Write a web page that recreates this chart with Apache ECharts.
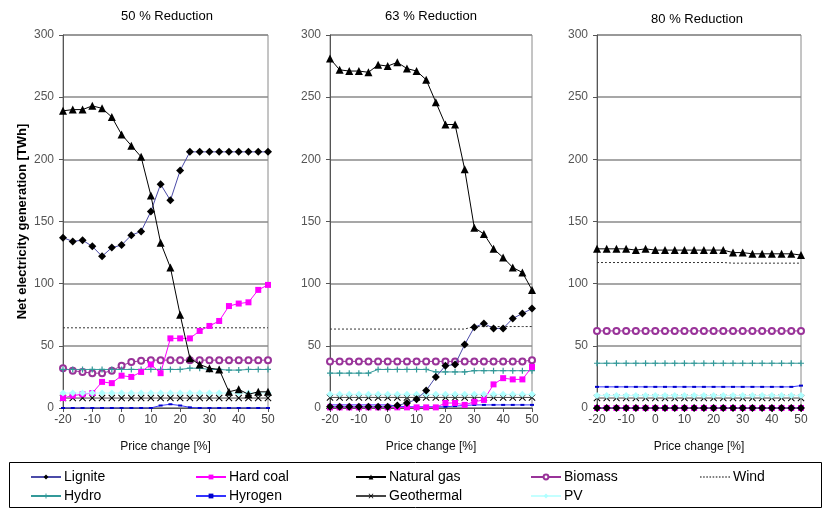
<!DOCTYPE html>
<html>
<head>
<meta charset="utf-8">
<script src="https://cdn.jsdelivr.net/npm/echarts@6/dist/echarts.min.js"></script>
<style>
  html, body { margin: 0; padding: 0; background: #fff; }
  #chart { width: 830px; height: 510px; }
</style>
</head>
<body>
<div id="chart"></div>
<script>
// Price change steps (%) shared by all three scenarios
const priceChange = [-20, -16.67, -13.33, -10, -6.67, -3.33, 0, 3.33, 6.67, 10, 13.33, 16.67,
  20, 23.33, 26.67, 30, 33.33, 36.67, 40, 43.33, 46.67, 50];
const xTicks = [-20, -10, 0, 10, 20, 30, 40, 50];
const yTicks = [0, 50, 100, 150, 200, 250, 300];

const fuels = ['Lignite', 'Hard coal', 'Natural gas', 'Biomass', 'Wind', 'Hydro', 'Hyrogen', 'Geothermal', 'PV'];
const panelTitles = ['50 % Reduction', '63 % Reduction', '80 % Reduction'];

// 50 % reduction scenario (TWh)
const r50Lignite = [137, 134, 135, 130, 122, 129, 131, 139, 142, 158, 180, 167, 191, 206, 206, 206, 206, 206, 206, 206, 206, 206];
const r50HardCoal = [8, 10, 11, 12, 21, 20, 26, 25, 29, 35, 28, 56, 56, 56, 62, 66, 70, 82, 84, 85, 95, 99];
const r50Gas = [239, 240, 240, 243, 241, 234, 220, 211, 202, 171, 133, 113, 75, 40, 35, 32, 31, 13, 15, 11, 13, 13];
const r50Biomass = [32, 30, 29, 28, 28, 30, 34, 37, 38, 38.5, 38.5, 38.5, 38.5, 38.5, 38.5, 38.5, 38.5, 38.5, 38.5, 38.5, 38.5, 38.5];
const r50Wind = [64.5, 64.5, 64.5, 64.5, 64.5, 64.5, 64.5, 64.5, 64.5, 64.5, 64.5, 64.5, 64.5, 64.5, 64.5, 64.5, 64.5, 64.5, 64.5, 64.5, 64.5, 64.5];
const r50Hydro = [31, 31, 31, 31, 31, 31, 31, 31, 31, 31, 31, 31, 31, 32, 32, 31, 31, 30.5, 30.5, 31, 31, 31];
const r50Hydrogen = [0, 0, 0, 0, 0, 0, 0, 0, 0, 0, 2, 3, 2, 0.5, 0, 0, 0, 0, 0, 0, 0, 0];
const r50Geothermal = [8, 8, 8, 8, 8, 8, 8, 8, 8, 8, 8, 8, 8, 8, 8, 8, 8, 8, 8, 8, 8, 8];
const r50PV = [12, 12, 12, 12, 12, 12, 12, 12, 12, 12, 12, 12, 12, 12, 12, 12, 12, 12, 12, 12, 12, 12];

// 63 % reduction scenario (TWh)
const r63Lignite = [1, 1, 1, 1, 1, 1, 1, 2, 4, 7, 14, 25, 34, 35, 51, 65, 68, 64, 64, 72, 76, 80];
const r63HardCoal = [0.5, 0.5, 0.5, 0.5, 0.5, 0.5, 0.5, 0.5, 0.5, 0.5, 0.5, 0.5, 4, 4, 2.5, 5, 6.5, 19, 24, 23, 23, 33];
const r63Gas = [281, 272, 271, 271, 270, 276, 275, 278, 273, 271, 264, 246, 228, 228, 192, 145, 140, 128, 121, 113, 109, 95];
const r63Biomass = [37.5, 37.5, 37.5, 37.5, 37.5, 37.5, 37.5, 37.5, 37.5, 37.5, 37.5, 37.5, 37.5, 37.5, 37.5, 37.5, 37.5, 37.5, 37.5, 37.5, 37.5, 38.5];
const r63Wind = [63.5, 63.5, 63.5, 63.5, 63.5, 63.5, 63.5, 63.5, 63.5, 63.5, 63.5, 63.5, 63.5, 63.5, 63.5, 65.5, 65.5, 65.5, 65.5, 65.5, 65.5, 65.5];
const r63Hydro = [28, 28, 28, 28, 28, 31, 31, 31, 31, 31, 31, 29, 29, 29, 29, 30, 30, 30, 30, 30, 30, 30];
const r63Hydrogen = [2.5, 2.5, 2.5, 2.5, 2.5, 2.5, 2.5, 1.5, 1, 1, 1, 1, 1, 1.5, 2, 2.5, 2.5, 2.5, 2.5, 2.5, 2.5, 2.5];
const r63Geothermal = [8.5, 8.5, 8.5, 8.5, 8.5, 8.5, 8.5, 8.5, 8.5, 8.5, 8.5, 8.5, 8.5, 8.5, 8.5, 8.5, 8.5, 8.5, 8.5, 8.5, 8.5, 8.5];
const r63PV = [11, 11, 11, 11, 11, 11, 11, 11, 11, 11, 11, 11, 11, 11, 11, 11, 11, 11, 11, 11, 11, 11];

// 80 % reduction scenario (TWh)
const r80Lignite = [0, 0, 0, 0, 0, 0, 0, 0, 0, 0, 0, 0, 0, 0, 0, 0, 0, 0, 0, 0, 0, 0];
const r80HardCoal = [0, 0, 0, 0, 0, 0, 0, 0, 0, 0, 0, 0, 0, 0, 0, 0, 0, 0, 0, 0, 0, 0];
const r80Gas = [128, 128, 128, 128, 127, 128, 127, 127, 127, 127, 127, 127, 127, 127, 125, 125, 124, 124, 124, 124, 124, 123];
const r80Biomass = [62, 62, 62, 62, 62, 62, 62, 62, 62, 62, 62, 62, 62, 62, 62, 62, 62, 62, 62, 62, 62, 62];
const r80Wind = [117, 117, 117, 117, 117, 117, 117, 117, 117, 117, 117, 117, 117, 117, 116.5, 116.5, 116.5, 116.5, 116.5, 116.5, 116.5, 116.5];
const r80Hydro = [36, 36, 36, 36, 36, 36, 36, 36, 36, 36, 36, 36, 36, 36, 36, 36, 36, 36, 36, 36, 36, 36];
const r80Hydrogen = [17, 17, 17, 17, 17, 17, 17, 17, 17, 17, 17, 17, 17, 17, 17, 17, 17, 17, 17, 17, 17, 18];
const r80Geothermal = [8, 8, 8, 8, 8, 8, 8, 8, 8, 8, 8, 8, 8, 8, 8, 8, 8, 8, 8, 8, 8, 8];
const r80PV = [10, 10, 10, 10, 10, 10, 10, 10, 10, 10, 10, 10, 10, 10, 10, 10, 10, 10, 10, 10, 10, 10];

const panelData = [
  [r50Lignite, r50HardCoal, r50Gas, r50Biomass, r50Wind, r50Hydro, r50Hydrogen, r50Geothermal, r50PV],
  [r63Lignite, r63HardCoal, r63Gas, r63Biomass, r63Wind, r63Hydro, r63Hydrogen, r63Geothermal, r63PV],
  [r80Lignite, r80HardCoal, r80Gas, r80Biomass, r80Wind, r80Hydro, r80Hydrogen, r80Geothermal, r80PV]
];

const FONT = '"Liberation Sans", Arial, sans-serif';
const PLUS = 'path://M4,0H6V4H10V6H6V10H4V6H0V4H4Z';
const CROSS = 'path://M0,1L1,0L5,4L9,0L10,1L6,5L10,9L9,10L5,6L1,10L0,9L4,5Z';

// Dotted stroke used as the Wind legend key
let dots = '';
for (let x = 0; x < 30; x += 3) dots += 'M' + x + ',0h1.5v1h-1.5z';
const DOTTED_KEY = 'path://' + dots;

// Line and marker look for each source
const looks = {
  'Lignite':     { line: '#4b4ba8', mark: '#000', symbol: 'diamond', size: 8, z: 6 },
  'Hard coal':   { line: '#ff00ff', mark: '#ff00ff', symbol: 'rect', size: 6, z: 5 },
  'Natural gas': { line: '#000', mark: '#000', symbol: 'triangle', size: 8, z: 7 },
  'Biomass':     { line: '#993399', mark: '#993399', symbol: 'emptyCircle', size: 6, z: 4 },
  'Wind':        { line: '#333', mark: '#333', symbol: 'none', size: 0, z: 3, dotted: true },
  'Hydro':       { line: '#339999', mark: '#339999', symbol: PLUS, size: 6, z: 4 },
  'Hyrogen':     { line: '#3333ff', mark: '#0000cc', symbol: 'rect', size: [4, 2], z: 4 },
  'Geothermal':  { line: '#444', mark: '#000', symbol: CROSS, size: 7, z: 4 },
  'PV':          { line: '#c4ffff', mark: '#b0ffff', symbol: 'diamond', size: 7, z: 5 }
};

const gridLefts = [63, 330, 597];
const gridWidths = [205, 202, 204];
const grids = gridLefts.map((l, k) => ({
  left: l, width: gridWidths[k], top: 35, height: 373,
  show: true, borderColor: '#8a8a8a', borderWidth: 1, backgroundColor: '#fff'
}));

const xAxes = gridLefts.map((l, k) => ({
  type: 'value', gridIndex: k, min: xTicks[0], max: xTicks[xTicks.length - 1], interval: 10,
  axisLine: { show: true, onZero: false, lineStyle: { color: '#555', width: 1 } },
  axisTick: { show: true, length: 4, lineStyle: { color: '#555' } },
  splitLine: { show: false },
  axisLabel: { color: '#444', fontSize: 12, fontFamily: FONT, margin: 6 },
  name: 'Price change [%]', nameLocation: 'middle', nameGap: 33,
  nameTextStyle: { color: '#111', fontSize: 12, fontFamily: FONT }
}));

const yAxes = gridLefts.map((l, k) => ({
  type: 'value', gridIndex: k, min: yTicks[0], max: yTicks[yTicks.length - 1], interval: 50,
  axisLine: { show: true, onZero: false, lineStyle: { color: '#555', width: 1 } },
  axisTick: { show: true, length: 4, lineStyle: { color: '#555' } },
  splitLine: { show: true, lineStyle: { color: '#8a8a8a', width: 1.5 } },
  axisLabel: { color: '#555', fontSize: 12, fontFamily: FONT, margin: 9 },
  name: k === 0 ? 'Net electricity generation [TWh]' : '',
  nameLocation: 'middle', nameGap: 34,
  nameTextStyle: { color: '#000', fontSize: 13, fontWeight: 'bold', fontFamily: FONT }
}));

const series = [];
panelData.forEach((rows, k) => {
  fuels.forEach((f, j) => {
    const lk = looks[f];
    series.push({
      type: 'line', name: f, xAxisIndex: k, yAxisIndex: k,
      data: priceChange.map((x, i) => [x, rows[j][i]]),
      symbol: lk.symbol, symbolSize: lk.size, showSymbol: lk.symbol !== 'none',
      z: lk.z, animation: false, silent: true,
      lineStyle: { color: lk.line, width: 1, type: lk.dotted ? [2, 2] : 'solid' },
      itemStyle: { color: lk.mark, borderColor: lk.mark, borderWidth: lk.symbol === 'emptyCircle' ? 1.2 : 0 }
    });
  });
});

const titleCenters = [162, 426, 692];
const titleTops = [5, 5, 8];
const titles = panelTitles.map((t, k) => ({
  text: t, left: titleCenters[k], top: titleTops[k], textAlign: 'center',
  textStyle: { fontSize: 13, fontWeight: 'normal', color: '#000', fontFamily: FONT }
}));

// Legend laid out as five columns in two rows
const legendCols = [
  { left: 30, names: ['Lignite', 'Hydro'] },
  { left: 195, names: ['Hard coal', 'Hyrogen'] },
  { left: 355, names: ['Natural gas', 'Geothermal'] },
  { left: 530, names: ['Biomass', 'PV'] },
  { left: 700, names: [{ name: 'Wind', icon: DOTTED_KEY, itemStyle: { color: '#000' } }] }
];
const legends = legendCols.map(c => ({
  data: c.names, left: c.left, top: 470, orient: 'vertical',
  itemWidth: 30, itemHeight: 6, itemGap: 5, padding: 0,
  selectedMode: false,
  textStyle: { fontSize: 14, color: '#000', fontFamily: FONT, lineHeight: 14, padding: [0, 0, 0, -2] }
}));

const chart = echarts.init(document.getElementById('chart'), null, { renderer: 'canvas' });
chart.setOption({
  backgroundColor: '#fff',
  title: titles,
  grid: grids,
  xAxis: xAxes,
  yAxis: yAxes,
  legend: legends,
  series: series,
  graphic: [{
    type: 'rect', shape: { x: 9.5, y: 462.5, width: 812, height: 45 },
    style: { fill: 'none', stroke: '#000', lineWidth: 1 }, z: -1
  }]
});
</script>
</body>
</html>
